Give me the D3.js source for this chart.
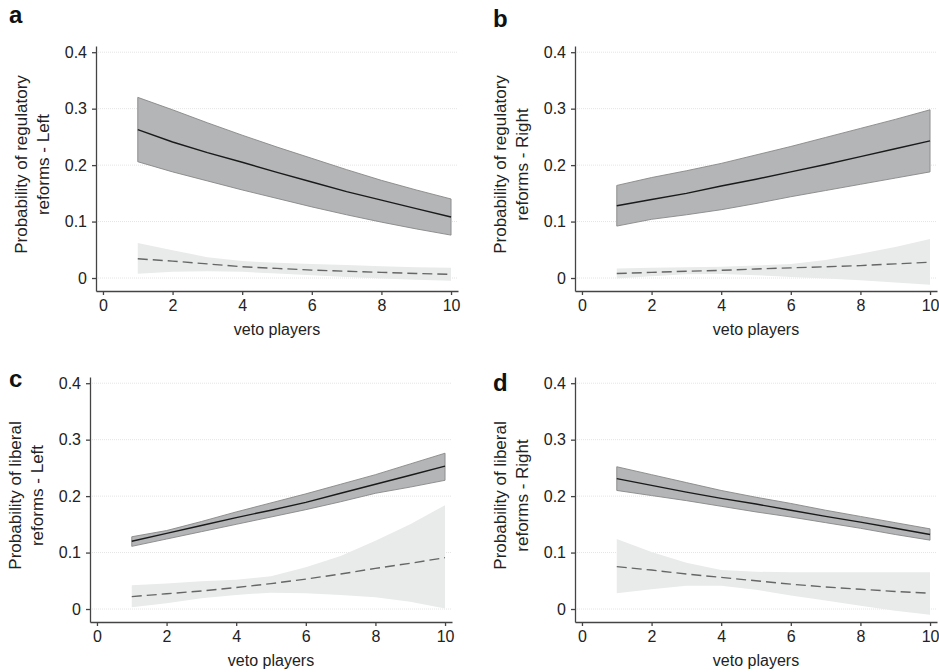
<!DOCTYPE html>
<meta charset="utf-8">
<style>
    body { margin: 0; background: #fff; }
    svg { font-family: "Liberation Sans", Arial, sans-serif; }
    .axis path, .axis line { stroke: #444; stroke-width: 1.3; fill: none; }
    .axis text { font-size: 16px; fill: #222; }
    .grid line { stroke: #e4e4e4; stroke-dasharray: 1,1; }
</style>
<body>
<script src="https://d3js.org/d3.v7.min.js"></script>
<script>
    // veto players (x) used for every curve
    var veto = [1, 2, 3, 4, 5, 6, 7, 8, 9, 10];
    var xTicks = [0, 2, 4, 6, 8, 10];
    var yTicks = [0, 0.1, 0.2, 0.3, 0.4];

    // panel a - regulatory reforms, Left
    var aMean  = [0.263, 0.241, 0.222, 0.205, 0.187, 0.170, 0.153, 0.138, 0.123, 0.108];
    var aHi    = [0.320, 0.298, 0.275, 0.253, 0.232, 0.212, 0.192, 0.173, 0.156, 0.140];
    var aLo    = [0.206, 0.188, 0.172, 0.156, 0.141, 0.126, 0.112, 0.099, 0.087, 0.076];
    var aDash  = [0.034, 0.030, 0.025, 0.020, 0.017, 0.014, 0.012, 0.010, 0.008, 0.0065];
    var aDHi   = [0.062, 0.049, 0.037, 0.030, 0.027, 0.025, 0.023, 0.021, 0.019, 0.018];
    var aDLo   = [0.0077, 0.011, 0.012, 0.011, 0.008, 0.005, 0.002, -0.001, -0.003, -0.005];

    // panel b - regulatory reforms, Right
    var bMean  = [0.128, 0.139, 0.150, 0.163, 0.175, 0.188, 0.201, 0.215, 0.229, 0.243];
    var bHi    = [0.164, 0.178, 0.190, 0.203, 0.218, 0.233, 0.249, 0.265, 0.281, 0.298];
    var bLo    = [0.092, 0.104, 0.112, 0.121, 0.132, 0.144, 0.155, 0.166, 0.177, 0.188];
    var bDash  = [0.008, 0.010, 0.012, 0.0136, 0.016, 0.018, 0.020, 0.022, 0.025, 0.028];
    var bDHi   = [0.017, 0.018, 0.019, 0.020, 0.022, 0.025, 0.032, 0.043, 0.055, 0.069];
    var bDLo   = [-0.001, 0.003, 0.0065, 0.007, 0.005, 0.002, -0.001, -0.004, -0.008, -0.012];

    // panel c - liberal reforms, Left
    var cMean  = [0.120, 0.134, 0.148, 0.162, 0.175, 0.189, 0.205, 0.221, 0.237, 0.253];
    var cHi    = [0.128, 0.139, 0.155, 0.172, 0.188, 0.204, 0.221, 0.238, 0.257, 0.276];
    var cLo    = [0.111, 0.124, 0.137, 0.150, 0.163, 0.176, 0.190, 0.205, 0.216, 0.228];
    var cDash  = [0.022, 0.027, 0.032, 0.038, 0.045, 0.053, 0.062, 0.072, 0.081, 0.091];
    var cDHi   = [0.042, 0.045, 0.049, 0.052, 0.058, 0.074, 0.094, 0.121, 0.150, 0.184];
    var cDLo   = [0.003, 0.010, 0.019, 0.025, 0.029, 0.028, 0.025, 0.021, 0.013, 0.001];

    // panel d - liberal reforms, Right
    var dMean  = [0.231, 0.219, 0.207, 0.196, 0.186, 0.175, 0.164, 0.154, 0.143, 0.132];
    var dHi    = [0.252, 0.238, 0.224, 0.210, 0.198, 0.187, 0.175, 0.164, 0.153, 0.142];
    var dLo    = [0.210, 0.201, 0.192, 0.182, 0.172, 0.163, 0.153, 0.143, 0.132, 0.122];
    var dDash  = [0.075, 0.069, 0.062, 0.056, 0.050, 0.044, 0.039, 0.035, 0.031, 0.028];
    var dDHi   = [0.124, 0.101, 0.082, 0.069, 0.066, 0.065, 0.065, 0.065, 0.065, 0.065];
    var dDLo   = [0.028, 0.035, 0.041, 0.041, 0.034, 0.024, 0.015, 0.006, -0.003, -0.010];

    var panels = [
        {letter: "a", lx: 9, ly: 23, ox: 96, oy: 46, t1: "Probability of regulatory", t2: "reforms - Left",
         mean: aMean, hi: aHi, lo: aLo, dash: aDash, dhi: aDHi, dlo: aDLo},
        {letter: "b", lx: 493, ly: 27, ox: 575, oy: 46, t1: "Probability of regulatory", t2: "reforms - Right",
         mean: bMean, hi: bHi, lo: bLo, dash: bDash, dhi: bDHi, dlo: bDLo},
        {letter: "c", lx: 9, ly: 387, ox: 90, oy: 377, t1: "Probability of liberal", t2: "reforms - Left",
         mean: cMean, hi: cHi, lo: cLo, dash: cDash, dhi: cDHi, dlo: cDLo},
        {letter: "d", lx: 493, ly: 391, ox: 575, oy: 377, t1: "Probability of liberal", t2: "reforms - Right",
         mean: dMean, hi: dHi, lo: dLo, dash: dDash, dhi: dDHi, dlo: dDLo}
    ];

    var width = 362, height = 245;

    var x = d3.scaleLinear().domain([-0.2, 10.2]).range([0, width]);
    var y = d3.scaleLinear().domain([-0.023, 0.411]).range([height, 0]);

    var svg = d3.select("body").append("svg")
        .attr("width", 939)
        .attr("height", 672);

    panels.forEach(function(p) {
        svg.append("text")
            .attr("x", p.lx)
            .attr("y", p.ly)
            .style("font-size", "24px")
            .style("font-weight", "bold")
            .style("fill", "#111")
            .text(p.letter);

        var g = svg.append("g")
            .attr("transform", "translate(" + p.ox + "," + p.oy + ")");

        // faint dotted gridlines
        g.append("g")
            .attr("class", "grid")
            .selectAll("line")
            .data(yTicks)
            .enter().append("line")
            .attr("x1", 0)
            .attr("x2", width)
            .attr("y1", function(d) { return y(d); })
            .attr("y2", function(d) { return y(d); });

        var pts = veto.map(function(v, i) {
            return {v: v, mean: p.mean[i], hi: p.hi[i], lo: p.lo[i],
                    dash: p.dash[i], dhi: p.dhi[i], dlo: p.dlo[i]};
        });

        var lightArea = d3.area()
            .x(function(d) { return x(d.v); })
            .y0(function(d) { return y(d.dlo); })
            .y1(function(d) { return y(d.dhi); });

        var darkArea = d3.area()
            .x(function(d) { return x(d.v); })
            .y0(function(d) { return y(d.lo); })
            .y1(function(d) { return y(d.hi); });

        g.append("path")
            .datum(pts)
            .attr("d", lightArea)
            .style("fill", "#e9eaea")
            .style("stroke", "none");

        g.append("path")
            .datum(pts)
            .attr("d", darkArea)
            .style("fill", "#b4b5b7")
            .style("stroke", "#888")
            .style("stroke-width", 0.9);

        g.append("path")
            .datum(pts)
            .attr("d", d3.line()
                .x(function(d) { return x(d.v); })
                .y(function(d) { return y(d.dash); }))
            .style("fill", "none")
            .style("stroke", "#666")
            .style("stroke-width", 1.4)
            .style("stroke-dasharray", "10,5");

        g.append("path")
            .datum(pts)
            .attr("d", d3.line()
                .x(function(d) { return x(d.v); })
                .y(function(d) { return y(d.mean); }))
            .style("fill", "none")
            .style("stroke", "#1a1a1a")
            .style("stroke-width", 1.4);

        g.append("g")
            .attr("class", "axis")
            .attr("transform", "translate(0," + height + ")")
            .call(d3.axisBottom(x).tickValues(xTicks).tickSize(4).tickSizeOuter(0).tickPadding(5))
            .append("text")
            .attr("x", width / 2)
            .attr("y", 44)
            .style("text-anchor", "middle")
            .text("veto players");

        g.append("g")
            .attr("class", "axis")
            .call(d3.axisLeft(y).tickValues(yTicks).tickSize(4).tickSizeOuter(0).tickPadding(5)
                .tickFormat(function(d) { return d === 0 ? "0" : d3.format(".1f")(d); }));

        var title = g.append("text")
            .attr("transform", "rotate(-90)")
            .style("font-size", "17px")
            .style("fill", "#222")
            .style("text-anchor", "middle");
        title.append("tspan")
            .attr("x", -(height / 2 - 4))
            .attr("y", -75)
            .attr("dy", "0.35em")
            .text(p.t1);
        title.append("tspan")
            .attr("x", -(height / 2 - 4))
            .attr("y", -53)
            .attr("dy", "0.35em")
            .text(p.t2);
    });
</script>
</body>
